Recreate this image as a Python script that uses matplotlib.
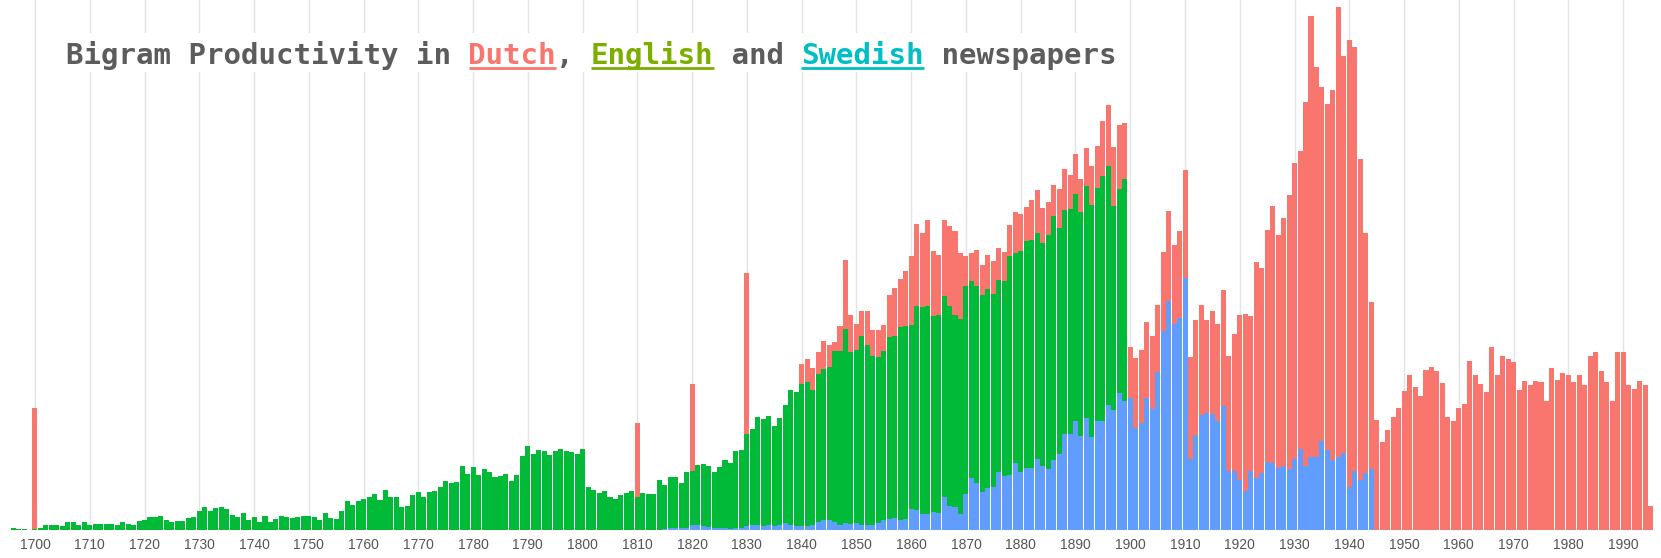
import matplotlib
matplotlib.use("Agg")
import matplotlib.pyplot as plt
from matplotlib.patches import Rectangle
import numpy as np

# ---------------- data (segment heights, arbitrary units) ----------------
first_year = 1696
last_year = 1995

english_start = 1696
english = [
    1.7, 0.7, 0.7, 0.0,
    0.7, 1.7, 4.3, 5.0, 5.0, 3.3, 7.7, 7.7, 5.0, 7.3,
    5.0, 6.0, 6.0, 6.0, 5.3, 5.0, 7.3, 6.0, 5.0, 8.3,
    9.3, 12.7, 12.3, 14.0, 10.0, 7.7, 9.0, 9.0, 11.7, 12.7,
    18.3, 22.7, 19.0, 21.3, 22.7, 21.0, 15.0, 12.7, 16.7, 10.0,
    12.7, 8.0, 14.0, 8.0, 11.0, 14.0, 12.3, 11.7, 12.7, 13.3,
    14.0, 12.7, 9.3, 16.7, 11.7, 10.7, 19.0, 29.0, 25.0, 29.0,
    30.7, 32.7, 36.0, 30.0, 40.0, 32.3, 32.3, 22.7, 24.0, 34.3,
    37.3, 32.3, 37.3, 39.0, 42.3, 48.3, 46.7, 47.3, 63.3, 56.0,
    62.3, 54.3, 60.7, 57.3, 52.3, 54.0, 56.0, 49.0, 55.0, 73.3,
    83.3, 76.0, 80.0, 78.3, 75.0, 78.3, 80.7, 78.3, 77.3, 75.3,
    81.0, 42.7, 39.3, 37.0, 38.7, 32.7, 31.0, 34.3, 37.0, 38.3,
    32.7, 37.0, 36.0, 36.0, 50.0, 43.6, 50.6, 50.6, 44.3, 55.3,
    53.3, 60.0, 62.7, 60.6, 56.0, 60.3, 67.6, 66.0, 77.0, 78.0,
    92.7, 95.3, 108.4, 106.6, 109.0, 99.3, 107.7, 117.5, 135.2, 133.3,
    142.7, 144.4, 135.0, 148.4, 151.4, 153.0, 171.0, 174.0, 194.0, 171.6,
    173.3, 189.0, 180.0, 169.7, 165.6, 169.0, 182.0, 182.3, 193.4, 192.6,
    184.3, 204.0, 206.6, 207.6, 196.0, 198.0, 200.8, 199.3, 192.3, 195.2,
    207.7, 197.3, 196.7, 197.7, 199.0, 193.3, 192.7, 195.0, 218.3, 210.0,
    220.7, 226.7, 228.3, 226.0, 222.7, 234.3, 244.0, 225.7, 223.7, 225.0,
    227.7, 224.0, 232.3, 232.7, 233.3, 245.7, 238.3, 204.0, 204.3, 222.7,
]

swedish_start = 1815
swedish = [
    0.7, 1.7, 1.7, 1.7, 1.7,
    5.0, 4.3, 3.3, 2.7, 1.7, 1.7, 1.7, 1.0, 1.7, 1.7,
    3.3, 5.0, 4.3, 3.7, 5.0, 3.7, 4.3, 7.0, 4.3, 3.7,
    3.3, 3.3, 4.3, 7.3, 9.3, 9.3, 7.3, 5.0, 6.7, 5.7,
    6.7, 5.0, 5.0, 4.3, 6.7, 9.3, 10.7, 11.7, 9.3, 10.7,
    20.7, 19.3, 15.7, 15.7, 18.0, 17.0, 32.5, 24.0, 22.7, 15.5,
    35.7, 51.7, 46.7, 37.3, 41.7, 42.7, 57.3, 53.3, 55.0, 66.7,
    57.7, 61.7, 61.7, 70.7, 64.0, 60.7, 70.0, 76.0, 95.7, 95.7,
    108.3, 93.3, 111.7, 92.3, 108.3, 108.3, 125.0, 120.0, 136.7, 128.3,
    131.3, 101.2, 106.5, 131.3, 120.7, 158.0, 198.8, 229.0, 205.2, 211.2,
    251.3, 71.0, 94.1, 114.3, 116.1, 115.4, 108.3, 123.2, 58.6, 58.6,
    49.7, 39.0, 58.6, 51.5, 56.8, 67.4, 66.4, 61.1, 63.9, 60.3,
    71.0, 80.9, 63.9, 72.8, 72.8, 88.7, 79.9, 69.2, 72.8, 76.3,
    42.6, 58.6, 49.7, 56.8, 60.3,
]

dutch_spike_years = [1700, 1810, 1820, 1830]
dutch_spike_values = [121.0, 74.3, 87.0, 161.0]

dutch_start = 1840
dutch = [
    20.0, 22.3, 22.4, 21.6, 27.6, 22.7, 9.0, 24.3, 68.6, 37.7,
    26.0, 24.3, 33.3, 26.0, 27.7, 26.7, 41.6, 47.7, 48.0, 55.0,
    69.0, 82.4, 74.4, 86.7, 65.0, 60.0, 76.7, 80.7, 83.3, 66.0,
    30.0, 27.7, 36.0, 29.3, 33.7, 32.3, 31.7, 29.0, 31.0, 41.0,
    36.7, 34.3, 40.0, 43.3, 35.0, 32.3, 31.0, 39.3, 40.7, 34.3,
    40.0, 33.3, 37.7, 38.3, 41.7, 54.3, 61.0, 58.3, 63.3, 55.7,
    51.5, 69.9, 72.8, 76.4, 72.8, 66.4, 78.8, 89.8, 79.5, 87.0,
    108.0, 101.9, 115.3, 110.1, 93.3, 102.9, 96.9, 116.4, 115.3, 136.6,
    165.1, 176.8, 155.1, 216.5, 205.2, 232.6, 257.3, 233.5, 247.8, 274.1,
    295.3, 297.2, 363.5, 441.2, 389.4, 354.3, 346.1, 370.3, 449.7, 396.9,
    446.6, 423.5, 320.6, 239.6, 167.6, 109.3, 88.0, 99.3, 112.3, 121.7,
    138.3, 155.0, 142.7, 134.0, 160.0, 162.7, 158.3, 146.7, 112.3, 108.3,
    121.7, 125.7, 169.0, 155.0, 145.7, 137.7, 182.3, 155.0, 173.3, 171.0,
    167.7, 139.3, 149.0, 145.0, 149.0, 147.7, 128.3, 161.7, 150.0, 156.7,
    155.0, 147.7, 155.0, 145.0, 173.3, 177.7, 159.0, 147.7, 128.3, 177.7,
    177.7, 145.0, 140.7, 149.0, 145.0, 23.3,
]

tick_years = list(range(1700, 2000, 10))
tick_labels = [str(y) for y in tick_years]

title_parts = ["Bigram Productivity in ", "Dutch", ", ", "English", " and ", "Swedish", " newspapers"]

# ---------------- assemble series on a common year axis ----------------
years = np.arange(first_year, last_year + 1)


def on_axis(start, values):
    arr = np.zeros(len(years))
    i = start - first_year
    arr[i:i + len(values)] = values
    return arr


sw = on_axis(swedish_start, swedish)
en = on_axis(english_start, english)
du = on_axis(dutch_start, dutch)
for y, v in zip(dutch_spike_years, dutch_spike_values):
    du[y - first_year] = v

# ---------------- styling ----------------
RED = "#F8766D"
GREEN = "#00BA38"
BLUE = "#619CFF"
T_RED = "#F8766D"
T_GREEN = "#7CAE00"
T_CYAN = "#00BFC4"
T_GREY = "#5c5c5c"

W, H = 1661, 558
fig = plt.figure(figsize=(W / 100, H / 100), dpi=100)
fig.patch.set_facecolor("white")

ax_left, ax_right = 6.5, 1656.0
ax_base = 529.5
ax = fig.add_axes([ax_left / W, (H - ax_base) / H, (ax_right - ax_left) / W, ax_base / H])
ax.set_xlim(1694.8, 1996.0)
ax.set_ylim(0, ax_base)

for s in ax.spines.values():
    s.set_visible(False)
ax.set_yticks([])
for x in tick_years:
    ax.axvline(x, color="#e3e3e3", lw=1.0, zorder=0)

bw = 0.92
ax.bar(years, sw, width=bw, color=BLUE, linewidth=0, zorder=2)
ax.bar(years, en, width=bw, bottom=sw, color=GREEN, linewidth=0, zorder=2)
ax.bar(years, du, width=bw, bottom=sw + en, color=RED, linewidth=0, zorder=2)

ax.set_xticks(tick_years)
ax.set_xticklabels(tick_labels, fontsize=10, color="#555555", family="Liberation Sans")
ax.tick_params(axis="x", length=0, pad=6)

# ---------------- title ----------------
fig.add_artist(Rectangle((58 / W, 1 - 72 / H), (1128 - 58) / W, (72 - 33) / H,
                         transform=fig.transFigure, facecolor="white",
                         edgecolor="none", zorder=5))

renderer = fig.canvas.get_renderer()
colors = [T_GREY, T_RED, T_GREY, T_GREEN, T_GREY, T_CYAN, T_GREY]
underline = [False, True, False, True, False, True, False]
x_px = 66.0
baseline_px = 63.5
for part, col, ul in zip(title_parts, colors, underline):
    t = fig.text(x_px / W, 1 - baseline_px / H, part, color=col, fontsize=21.0,
                 family="DejaVu Sans Mono", weight="bold", va="baseline",
                 ha="left", zorder=6)
    wpx = t.get_window_extent(renderer).width
    if ul:
        yl = 1 - (baseline_px + 4.5) / H
        fig.add_artist(plt.Line2D([x_px / W, (x_px + wpx) / W], [yl, yl],
                                  transform=fig.transFigure, color=col,
                                  lw=2.0, zorder=6, solid_capstyle="butt"))
    x_px += wpx

fig.savefig("out.png", dpi=100, facecolor="white")
